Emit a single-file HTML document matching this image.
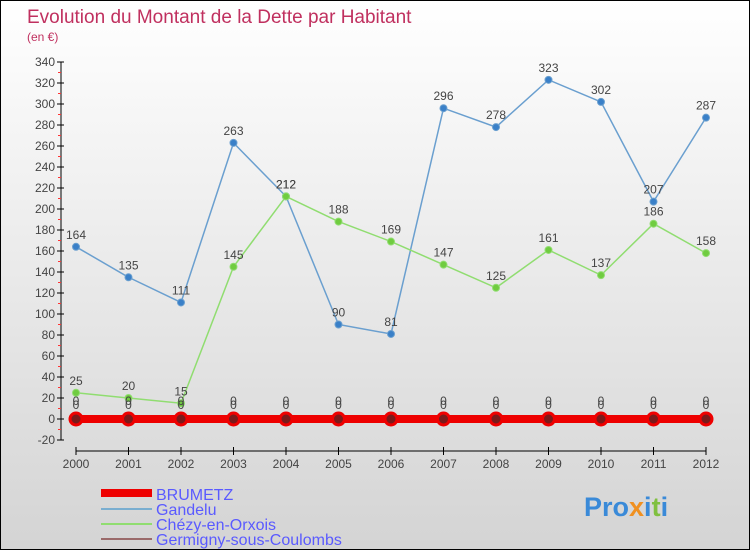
<!DOCTYPE html>
<html><head><meta charset="utf-8"><style>
body{margin:0;}
#c{position:relative;width:748px;height:548px;border:1px solid #000;background:linear-gradient(#fff,#d4d4d4);font-family:"Liberation Sans",sans-serif;overflow:hidden}
svg{position:absolute;left:0;top:0}
</style></head><body>
<div id="c">
<svg id="s" width="750" height="550">
<text x="26" y="22" font-size="19" fill="#c0305f">Evolution du Montant de la Dette par Habitant</text>
<text x="26" y="40" font-size="12" fill="#c0305f">(en €)</text>
<g id="legend">
<rect x="100" y="488" width="51" height="8" fill="#e00"/>
<text x="155" y="499" font-size="16" fill="#5a5aff">BRUMETZ</text>
<line x1="100" y1="508" x2="151" y2="508" stroke="#7aaed0" stroke-width="2"/>
<text x="155" y="514" font-size="16" fill="#5a5aff">Gandelu</text>
<line x1="100" y1="523" x2="151" y2="523" stroke="#90dd70" stroke-width="2"/>
<text x="155" y="529" font-size="16" fill="#5a5aff">Chézy-en-Orxois</text>
<line x1="100" y1="538" x2="151" y2="538" stroke="#9a6a6a" stroke-width="2"/>
<text x="155" y="544" font-size="16" fill="#5a5aff">Germigny-sous-Coulombs</text>
</g>
<text x="583" y="515" font-size="27" font-weight="bold" fill="#3a8ad8">Pro<tspan fill="#f09020">x</tspan>i<tspan fill="#80c040">t</tspan>i</text>
</svg>
</div>
<script>
const years=["2000","2001","2002","2003","2004","2005","2006","2007","2008","2009","2010","2011","2012"];
const brumetz=[0,0,0,0,0,0,0,0,0,0,0,0,0];
const gandelu=[164,135,111,263,212,90,81,296,278,323,302,207,287];
const chezy=[25,20,15,145,212,188,169,147,125,161,137,186,158];
const germigny=[0,0,0,0,0,0,0,0,0,0,0,0,0];
const yTicks=[-20,0,20,40,60,80,100,120,140,160,180,200,220,240,260,280,300,320,340];
const NS="http://www.w3.org/2000/svg",s=document.getElementById('s');
const X=i=>75+i*52.5, Y=v=>418-v*1.05;
function el(t,a,p){const e=document.createElementNS(NS,t);for(const k in a)e.setAttribute(k,a[k]);(p||s).appendChild(e);return e;}
const ax=el('g',{});


let l=el('line',{x1:60,y1:Y(340),x2:60,y2:Y(-20),stroke:'#000'},ax);


yTicks.forEach(v=>{
  el('line',{x1:56,y1:Y(v),x2:63,y2:Y(v),stroke:'#000'},ax);
  if(v<340) el('line',{x1:57,y1:Y(v+10),x2:60,y2:Y(v+10),stroke:'#f33'},ax);
  const t=el('text',{x:54,y:Y(v)+4,'font-size':12,fill:'#444','text-anchor':'end'},ax);
  
  
  t.textContent=v;
});
l=el('line',{x1:75,y1:450,x2:705,y2:450,stroke:'#000'},ax);


years.forEach((y,i)=>{
  el('line',{x1:X(i),y1:446,x2:X(i),y2:454,stroke:'#000'},ax);
  const t=el('text',{x:X(i),y:467,'font-size':12,fill:'#444','text-anchor':'middle'},ax);
  
  
  t.textContent=y;
});
function series(d,name,col,w,r,pf,lab){
  const g=el('g',{});
  
  
  const p=el('polyline',{points:d.map((v,i)=>X(i)+','+Y(v)).join(' '),fill:'none',stroke:col,'stroke-width':w},g);
  
  
  d.forEach((v,i)=>{
    const c=el('circle',{cx:X(i),cy:Y(v),r:r,fill:pf,stroke:col,'stroke-width':r>5?3:1},g);
    
    
    if(lab){const t=el('text',{x:X(i),y:Y(v)-8,'font-size':12,fill:'#444','text-anchor':'middle'},g);
    
    
    t.textContent=v;}
  });
}
series(germigny,'germigny','#9a6a6a',1.5,3,'#7a1a1a',false);
series(brumetz,'brumetz','#e00',8,6,'#7a1a1a',false);
series(gandelu,'gandelu','#6a9fcf',1.5,3.5,'#3a80c8',true);
series(chezy,'chezy','#90dd70',1.5,3.5,'#70cc40',true);
brumetz.forEach((v,i)=>{[0,4].forEach(o=>{const t=el('text',{x:X(i),y:Y(v)-10-o,'font-size':12,fill:'#444','text-anchor':'middle'});


t.textContent=v;});});
</script>
</body></html>
